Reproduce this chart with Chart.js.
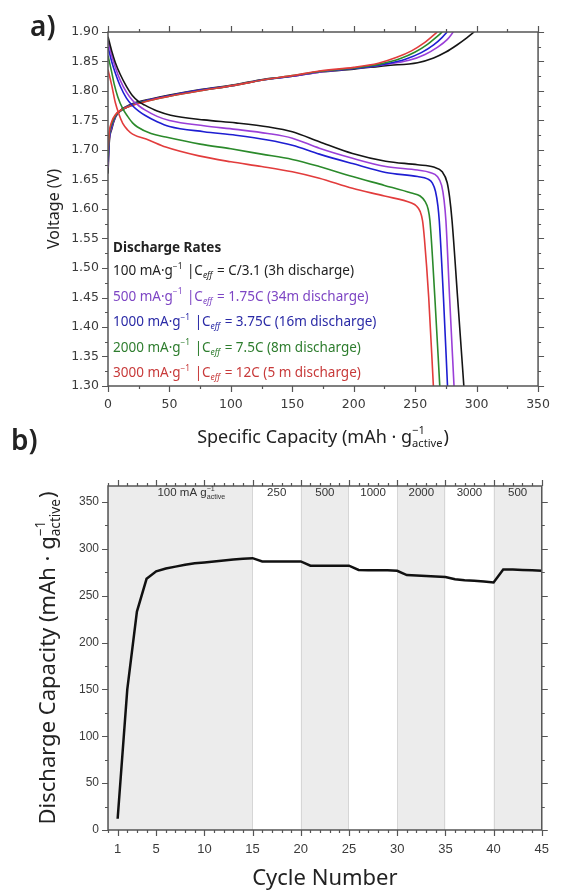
<!DOCTYPE html>
<html>
<head>
<meta charset="utf-8">
<script src="https://cdn.jsdelivr.net/npm/chart.js@4.4.1/dist/chart.umd.min.js"></script>
<style>
html, body { margin: 0; padding: 0; background: #fff; }
#wrap { position: relative; width: 561px; height: 892px; overflow: hidden; }
canvas { position: absolute; left: 0; }
#rateChart { top: 0; }
#cycleChart { top: 420px; }
</style>
</head>
<body>
<div id="wrap">
<canvas id="rateChart" width="561" height="460"></canvas>
<canvas id="cycleChart" width="561" height="472"></canvas>
</div>
<script>
// ---- a) voltage profiles: [capacity mAh/g, voltage V] ----
const discharge100 = [[0,1.892],[3,1.868],[6,1.848],[10,1.828],[15,1.808],[20,1.792],[25,1.782],[30,1.776],[40,1.766],[51,1.759],[78,1.751],[104,1.746],[131,1.739],[150,1.731],[172,1.714],[199,1.694],[226,1.681],[252,1.675],[265,1.671],[272,1.663],[276,1.645],[278,1.62],[280,1.58],[284.5,1.45],[289.6,1.30]];
const discharge500 = [[0,1.885],[3,1.860],[6,1.840],[10,1.818],[15,1.798],[20,1.784],[25,1.775],[30,1.768],[40,1.757],[50,1.750],[78,1.741],[104,1.735],[130,1.728],[150,1.720],[172,1.703],[199,1.686],[226,1.672],[252,1.666],[262,1.662],[268,1.655],[271.5,1.64],[273.5,1.615],[275,1.58],[278,1.45],[281.6,1.30]];
const discharge1000 = [[0,1.875],[3,1.850],[6,1.830],[10,1.808],[15,1.788],[20,1.775],[25,1.766],[30,1.759],[40,1.748],[50,1.740],[78,1.731],[104,1.725],[130,1.717],[150,1.708],[172,1.693],[199,1.677],[226,1.662],[252,1.655],[260,1.651],[264,1.644],[266.5,1.63],[268.5,1.605],[269.6,1.58],[273,1.45],[276.3,1.30]];
const discharge2000 = [[0,1.860],[3,1.832],[5,1.812],[8,1.790],[12,1.770],[16,1.757],[20,1.746],[24,1.739],[35,1.728],[47,1.722],[75,1.710],[100,1.702],[125,1.693],[150,1.684],[172,1.672],[199,1.655],[225,1.640],[247,1.627],[254,1.622],[258,1.613],[260.5,1.60],[262,1.58],[266,1.45],[270,1.30]];
const discharge3000 = [[0,1.836],[3,1.810],[6,1.780],[9,1.760],[12,1.745],[16,1.734],[20,1.727],[33,1.717],[47,1.705],[74,1.690],[100,1.680],[125,1.672],[150,1.663],[172,1.652],[199,1.635],[225,1.622],[247,1.610],[251,1.605],[254,1.596],[256,1.58],[257.5,1.55],[261,1.45],[264.8,1.30]];

const charge100 = [[0,1.660],[1,1.712],[3,1.735],[6,1.755],[10,1.767],[15,1.774],[22,1.780],[34,1.786],[50,1.793],[74,1.802],[104,1.811],[127,1.820],[150,1.825],[172,1.832],[200,1.837],[226,1.843],[252,1.848],[265,1.856],[275,1.866],[284,1.878],[292,1.890],[298,1.900]];
const charge500 = [[0,1.670],[1,1.716],[3,1.738],[6,1.756],[10,1.766],[15,1.773],[22,1.779],[34,1.785],[50,1.792],[74,1.801],[104,1.810],[127,1.819],[150,1.825],[172,1.832],[200,1.838],[226,1.845],[245,1.852],[258,1.862],[268,1.874],[276,1.887],[281,1.900]];
const charge1000 = [[0,1.680],[1,1.720],[3,1.741],[6,1.757],[10,1.766],[15,1.772],[22,1.778],[34,1.785],[50,1.792],[74,1.801],[104,1.810],[127,1.819],[150,1.825],[172,1.833],[200,1.838],[226,1.846],[242,1.854],[255,1.865],[265,1.878],[272,1.891],[276,1.900]];
const charge2000 = [[0,1.690],[1,1.725],[3,1.744],[6,1.758],[10,1.766],[15,1.772],[22,1.778],[34,1.784],[50,1.791],[74,1.800],[104,1.810],[127,1.819],[150,1.826],[172,1.833],[200,1.839],[222,1.846],[238,1.855],[250,1.866],[260,1.879],[267,1.891],[272,1.900]];
const charge3000 = [[0,1.700],[1,1.730],[3,1.748],[6,1.760],[10,1.767],[15,1.772],[22,1.777],[34,1.784],[50,1.791],[74,1.800],[104,1.810],[127,1.819],[150,1.826],[172,1.834],[200,1.840],[220,1.847],[235,1.857],[247,1.868],[257,1.881],[264,1.893],[268,1.900]];

const capTicks = [0, 50, 100, 150, 200, 250, 300, 350];
const capMinor = [25, 75, 125, 175, 225, 275, 325];
const voltTicks = [1.30, 1.35, 1.40, 1.45, 1.50, 1.55, 1.60, 1.65, 1.70, 1.75, 1.80, 1.85, 1.90];
const voltMinor = [1.325, 1.375, 1.425, 1.475, 1.525, 1.575, 1.625, 1.675, 1.725, 1.775, 1.825, 1.875];

const rateCurrents = ['100', '500', '1000', '2000', '3000'];
const rateCeff = ['C/3.1', '1.75C', '3.75C', '7.5C', '12C'];
const rateTimes = ['(3h discharge)', '(34m discharge)', '(16m discharge)', '(8m discharge)', '(5 m discharge)'];
const lineColors = ['#151515', '#9a3fd8', '#1e1ed2', '#2b8a2b', '#e23c3c'];
const textColors = ['#222222', '#7d45c4', '#2a2aa6', '#2e7d2e', '#c83a3a'];

// ---- b) cycling ----
const cycles = [1,2,3,4,5,6,7,8,9,10,11,12,13,14,15,16,17,18,19,20,21,22,23,24,25,26,27,28,29,30,31,32,33,34,35,36,37,38,39,40,41,42,43,44,45];
const dischargeCapacity = [12,150,233,268,276,279,281,283,284.5,285.5,286.5,287.5,288.5,289.5,290,286.5,286.5,286.5,286.5,286.5,282,282,282,282,282,277.5,277,277,277,276.5,272,271.5,271,270.5,270,267.5,266.5,266,265,264,278,278,277.5,277,276.5];
const cycleTicks = [1, 5, 10, 15, 20, 25, 30, 35, 40, 45];
const cycleMinor = [0,2,3,4,6,7,8,9,11,12,13,14,16,17,18,19,21,22,23,24,26,27,28,29,31,32,33,34,36,37,38,39,41,42,43,44];
const capAxisTicks = [0, 50, 100, 150, 200, 250, 300, 350];
const capAxisMinor = [25, 75, 125, 175, 225, 275, 325];
const shadedRanges = [[0, 15], [20, 25], [30, 35], [40, 45]];
const rateLabels = ['100 mA', '250', '500', '1000', '2000', '3000', '500'];
const rateLabelCycles = [8.7, 17.5, 22.5, 27.5, 32.5, 37.5, 42.5];

const axisColor = '#555555';
const tickColor = '#3a3a3a';
const titleFont = '"Noto Sans", "Open Sans", sans-serif';
const smallFont = '"Liberation Sans", Arial, sans-serif';

// draw a run of text pieces; piece: {t} normal, {sup} / {sub} small, both = stacked
function pieceWidth(ctx, p, size, family) {
    if (p.t !== undefined) {
        ctx.font = (p.italic ? 'italic ' : '') + size + 'px ' + family;
        return ctx.measureText(p.t).width;
    }
    ctx.font = (p.italic ? 'italic ' : '') + (size * 0.62) + 'px ' + family;
    const a = p.sup ? ctx.measureText(p.sup).width : 0;
    const b = p.sub ? ctx.measureText(p.sub).width : 0;
    return Math.max(a, b) + 1;
}

function richWidth(ctx, parts, size, family) {
    return parts.reduce((w, p) => w + pieceWidth(ctx, p, size, family), 0);
}

function drawRich(ctx, parts, x, y, size, family, color) {
    ctx.fillStyle = color;
    ctx.textBaseline = 'middle';
    ctx.textAlign = 'left';
    let cx = x;
    parts.forEach(p => {
        const w = pieceWidth(ctx, p, size, family);
        if (p.t !== undefined) {
            ctx.font = (p.italic ? 'italic ' : '') + size + 'px ' + family;
            ctx.fillText(p.t, cx, y);
        } else {
            ctx.font = (p.italic ? 'italic ' : '') + (size * 0.62) + 'px ' + family;
            if (p.sup) ctx.fillText(p.sup, cx, y - size * 0.38);
            if (p.sub) ctx.fillText(p.sub, cx, y + size * 0.32);
        }
        cx += w;
    });
}

function framePlugin(id, xMajor, xMinor, yMajor, yMinor) {
    return {
        id: id,
        afterDatasetsDraw(chart) {
            const ctx = chart.ctx;
            const a = chart.chartArea;
            const x = chart.scales.x;
            const y = chart.scales.y;
            ctx.save();
            ctx.strokeStyle = axisColor;
            ctx.lineWidth = 1.5;
            ctx.strokeRect(a.left, a.top, a.right - a.left, a.bottom - a.top);
            ctx.lineWidth = 1.2;
            ctx.beginPath();
            const xMark = (v, len) => {
                const px = Math.round(x.getPixelForValue(v)) + 0.5;
                ctx.moveTo(px, a.bottom); ctx.lineTo(px, a.bottom + len);
                ctx.moveTo(px, a.top); ctx.lineTo(px, a.top - len);
            };
            const yMark = (v, len) => {
                const py = Math.round(y.getPixelForValue(v)) + 0.5;
                ctx.moveTo(a.left, py); ctx.lineTo(a.left - len, py);
                ctx.moveTo(a.right, py); ctx.lineTo(a.right + len, py);
            };
            xMajor.forEach(v => xMark(v, 6));
            xMinor.forEach(v => xMark(v, 3));
            yMajor.forEach(v => yMark(v, 6));
            yMinor.forEach(v => yMark(v, 3));
            ctx.stroke();
            ctx.restore();
        }
    };
}

function toPoints(arr) {
    return arr.map(p => ({x: p[0], y: p[1]}));
}

function curve(arr, color) {
    return {
        data: toPoints(arr),
        borderColor: color,
        borderWidth: 1.6,
        pointRadius: 0,
        fill: false,
        cubicInterpolationMode: 'monotone'
    };
}

// ---------- chart a ----------
const rateAnnotations = {
    id: 'rateAnnotations',
    afterDraw(chart) {
        const ctx = chart.ctx;
        const a = chart.chartArea;
        ctx.save();
        // panel letter
        ctx.fillStyle = '#222';
        ctx.font = '600 28px ' + titleFont;
        ctx.textBaseline = 'middle';
        ctx.textAlign = 'left';
        ctx.fillText('a)', 30, 28);

        // legend block
        const lx = a.left + 5;
        ctx.font = 'bold 13.5px ' + titleFont;
        ctx.fillStyle = '#222';
        ctx.fillText('Discharge Rates', lx, 248);
        rateCurrents.forEach((cur, i) => {
            const parts = [
                {t: cur + ' mA·g'}, {sup: '−1'}, {t: ' |C'}, {sub: 'eff', italic: true},
                {t: ' = ' + rateCeff[i] + ' ' + rateTimes[i]}
            ];
            drawRich(ctx, parts, lx, 271.5 + i * 25.5, 13.5, titleFont, textColors[i]);
        });

        // axis titles
        const xt = [{t: 'Specific Capacity (mAh · g'}, {sup: '−1', sub: 'active'}, {t: ')'}];
        const w = richWidth(ctx, xt, 18, titleFont);
        drawRich(ctx, xt, (a.left + a.right) / 2 - w / 2, 438, 18, titleFont, '#222');

        ctx.translate(54, (a.top + a.bottom) / 2);
        ctx.rotate(-Math.PI / 2);
        ctx.font = '16px ' + titleFont;
        ctx.fillStyle = '#222';
        ctx.textAlign = 'center';
        ctx.fillText('Voltage (V)', 0, 0);
        ctx.restore();
    }
};

const rateDatasets = [];
[discharge100, discharge500, discharge1000, discharge2000, discharge3000].forEach((d, i) => {
    rateDatasets.push(curve(d, lineColors[i]));
});
[charge3000, charge2000, charge1000, charge500, charge100].forEach((d, i) => {
    rateDatasets.push(curve(d, lineColors[4 - i]));
});

new Chart(document.getElementById('rateChart'), {
    type: 'line',
    data: { datasets: rateDatasets },
    options: {
        responsive: false,
        animation: false,
        devicePixelRatio: 1,
        layout: { padding: { left: 0, right: 15, top: 32, bottom: 0 } },
        plugins: { legend: { display: false }, tooltip: { enabled: false } },
        scales: {
            x: {
                type: 'linear', min: 0, max: 350,
                grid: { display: false, drawTicks: false },
                border: { display: false },
                ticks: { padding: 11, color: tickColor, maxRotation: 0, font: { family: 'DejaVu Sans', size: 12.5 } },
                afterBuildTicks: s => { s.ticks = capTicks.map(v => ({value: v})); },
                afterFit: s => { s.height = 74; }
            },
            y: {
                type: 'linear', min: 1.30, max: 1.90,
                grid: { display: false, drawTicks: false },
                border: { display: false },
                ticks: { padding: 9, color: tickColor, font: { family: 'DejaVu Sans', size: 12.5 }, callback: v => Number(v).toFixed(2) },
                afterBuildTicks: s => { s.ticks = voltTicks.map(v => ({value: v})); },
                afterFit: s => { s.width = 108; }
            }
        }
    },
    plugins: [framePlugin('rateFrame', capTicks, capMinor, voltTicks, voltMinor), rateAnnotations]
});

// ---------- chart b ----------
const cycleShading = {
    id: 'cycleShading',
    beforeDatasetsDraw(chart) {
        const ctx = chart.ctx;
        const a = chart.chartArea;
        const x = chart.scales.x;
        ctx.save();
        shadedRanges.forEach(r => {
            const x0 = x.getPixelForValue(r[0]);
            const x1 = x.getPixelForValue(r[1]);
            ctx.fillStyle = '#ececec';
            ctx.fillRect(x0, a.top, x1 - x0, a.bottom - a.top);
            ctx.strokeStyle = '#d6d6d6';
            ctx.lineWidth = 1;
            ctx.beginPath();
            ctx.moveTo(Math.round(x0) + 0.5, a.top); ctx.lineTo(Math.round(x0) + 0.5, a.bottom);
            ctx.moveTo(Math.round(x1) - 0.5, a.top); ctx.lineTo(Math.round(x1) - 0.5, a.bottom);
            ctx.stroke();
        });
        ctx.restore();
    },
    afterDraw(chart) {
        const ctx = chart.ctx;
        const a = chart.chartArea;
        const x = chart.scales.x;
        ctx.save();
        rateLabels.forEach((lab, i) => {
            const parts = i === 0 ? [{t: lab + ' g'}, {sup: '−1', sub: 'active'}] : [{t: lab}];
            const w = richWidth(ctx, parts, 11.5, smallFont);
            drawRich(ctx, parts, x.getPixelForValue(rateLabelCycles[i]) - w / 2, a.top + 7, 11.5, smallFont, '#333');
        });

        ctx.fillStyle = '#222';
        ctx.font = '600 28px ' + titleFont;
        ctx.textBaseline = 'middle';
        ctx.textAlign = 'left';
        ctx.fillText('b)', 11, 22);

        ctx.font = '22px ' + titleFont;
        ctx.textAlign = 'center';
        ctx.fillText('Cycle Number', (a.left + a.right) / 2, 459);

        const yt = [{t: 'Discharge Capacity (mAh · g'}, {sup: '−1', sub: 'active'}, {t: ')'}];
        const w = richWidth(ctx, yt, 22, titleFont);
        ctx.translate(49, (a.top + a.bottom) / 2);
        ctx.rotate(-Math.PI / 2);
        drawRich(ctx, yt, -w / 2, 0, 22, titleFont, '#222');
        ctx.restore();
    }
};

new Chart(document.getElementById('cycleChart'), {
    type: 'line',
    data: {
        datasets: [{
            data: cycles.map((c, i) => ({x: c, y: dischargeCapacity[i]})),
            borderColor: '#111',
            borderWidth: 2.5,
            pointRadius: 0,
            fill: false,
            tension: 0
        }]
    },
    options: {
        responsive: false,
        animation: false,
        devicePixelRatio: 1,
        layout: { padding: { left: 0, right: 15, top: 66, bottom: 0 } },
        plugins: { legend: { display: false }, tooltip: { enabled: false } },
        scales: {
            x: {
                type: 'linear', min: 0, max: 45,
                grid: { display: false, drawTicks: false },
                border: { display: false },
                ticks: { padding: 12, color: tickColor, maxRotation: 0, font: { family: smallFont, size: 13 } },
                afterBuildTicks: s => { s.ticks = cycleTicks.map(v => ({value: v})); },
                afterFit: s => { s.height = 62; }
            },
            y: {
                type: 'linear', min: 0, max: 367,
                grid: { display: false, drawTicks: false },
                border: { display: false },
                ticks: { padding: 9, color: tickColor, font: { family: smallFont, size: 12 } },
                afterBuildTicks: s => { s.ticks = capAxisTicks.map(v => ({value: v})); },
                afterFit: s => { s.width = 108; }
            }
        }
    },
    plugins: [cycleShading, framePlugin('cycleFrame', cycleTicks, cycleMinor, capAxisTicks, capAxisMinor)]
});
</script>
</body>
</html>
